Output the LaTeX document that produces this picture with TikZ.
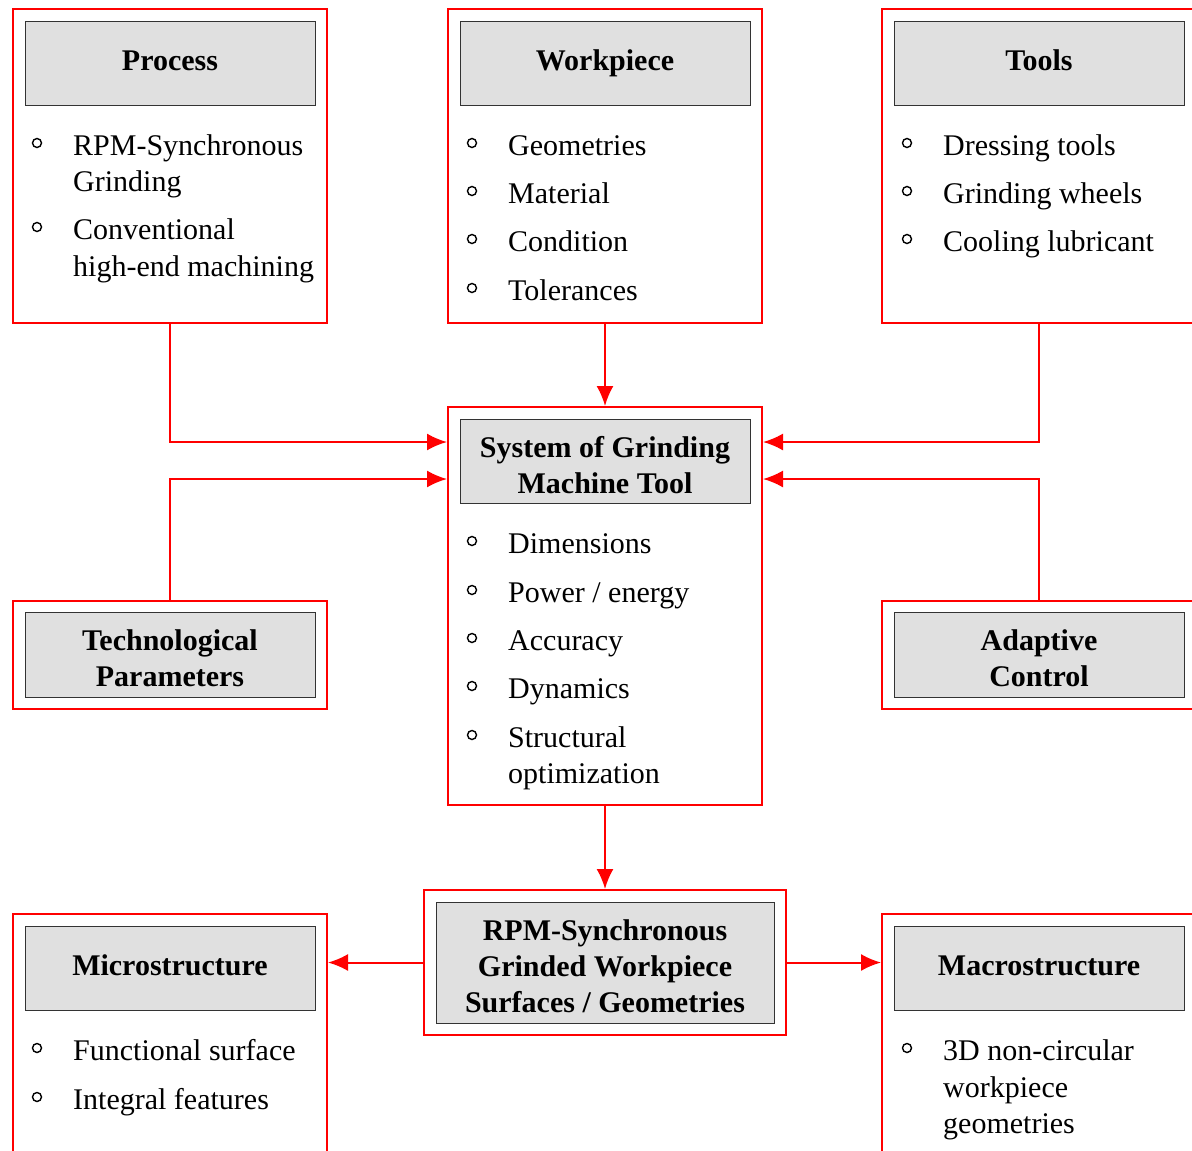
\documentclass[tikz,border=0pt]{standalone}
\usepackage{fontspec}
\setmainfont{Liberation Serif}
\usetikzlibrary{arrows.meta}
\tikzset{
  outer/.style={draw=red, line width=2pt, rectangle, inner sep=0pt, minimum width=314pt},
  head/.style={draw=black!80, line width=1pt, fill=black!12, rectangle, inner sep=0pt, minimum width=290pt, minimum height=84pt, align=center, font=\fontsize{30}{36}\selectfont\bfseries},
  item/.style={anchor=base west, inner sep=0pt, font=\fontsize{30}{36}\selectfont},
  bul/.style={draw=black, line width=1.4pt, circle, minimum size=9pt, inner sep=0pt},
  conn/.style={draw=red, line width=2pt, -{Latex[length=20pt,width=17pt]}},
  link/.style={draw=red, line width=2pt}
}
\newcommand\firstln{\rule{0pt}{38pt}}
\begin{document}
\begin{tikzpicture}[x=1pt,y=-1pt]
\useasboundingbox (0,0) rectangle (1192,1151);
\clip (0,0) rectangle (1192,1151);
\fill[white] (0,0) rectangle (1192,1151);
% outer boxes
\node[outer, minimum height=314pt] (proc) at (170,166) {};
\node[outer, minimum height=314pt] (work) at (605,166) {};
\node[outer, minimum height=314pt] (tools) at (1039,166) {};
\node[outer, minimum height=398pt] (sys) at (605,606) {};
\node[outer, minimum height=108pt] (tech) at (170,655) {};
\node[outer, minimum height=108pt] (adapt) at (1039,655) {};
\node[outer, minimum width=362pt, minimum height=145pt] (rpm) at (605,962.5) {};
\node[outer, minimum height=260pt] (micro) at (170,1044) {};
\node[outer, minimum height=260pt] (macro) at (1039,1044) {};
% headers
\node[head] (procH) at (170,63) {\strut Process};
\node[head] (workH) at (605,63) {\strut Workpiece};
\node[head] (toolsH) at (1039,63) {\strut Tools};
\node[head] (sysH) at (605,461.5) {\firstln System of Grinding\\\strut Machine Tool};
\node[head] (techH) at (170,655) {\firstln Technological\\\strut Parameters};
\node[head] (adaptH) at (1039,655) {\firstln Adaptive\\\strut Control};
\node[head, minimum width=338pt, minimum height=121pt] (rpmH) at (605,962.5) {\firstln RPM-Synchronous\\\strut Grinded Workpiece\\\strut Surfaces / Geometries};
\node[head] (microH) at (170,968.5) {\strut Microstructure};
\node[head] (macroH) at (1039,968.5) {\strut Macrostructure};
% Process items
\node[bul] (pb1) at (37,143) {};
\node[item] (p1) at (73,155) {RPM-Synchronous};
\node[item] (p1b) at (73,191) {Grinding};
\node[bul] (pb2) at (37,227) {};
\node[item] (p2) at (73,239) {Conventional};
\node[item] (p2b) at (73,276) {high-end machining};
% Workpiece items
\node[bul] (wb1) at (472,143) {};
\node[item] (w1) at (508,155) {Geometries};
\node[bul] (wb2) at (472,191) {};
\node[item] (w2) at (508,203) {Material};
\node[bul] (wb3) at (472,239) {};
\node[item] (w3) at (508,251) {Condition};
\node[bul] (wb4) at (472,288) {};
\node[item] (w4) at (508,300) {Tolerances};
% Tools items
\node[bul] (tb1) at (907,143) {};
\node[item] (t1) at (943,155) {Dressing tools};
\node[bul] (tb2) at (907,191) {};
\node[item] (t2) at (943,203) {Grinding wheels};
\node[bul] (tb3) at (907,239) {};
\node[item] (t3) at (943,251) {Cooling lubricant};
% System items
\node[bul] (sb1) at (472,541) {};
\node[item] (s1) at (508,553) {Dimensions};
\node[bul] (sb2) at (472,590) {};
\node[item] (s2) at (508,602) {Power / energy};
\node[bul] (sb3) at (472,638) {};
\node[item] (s3) at (508,650) {Accuracy};
\node[bul] (sb4) at (472,686) {};
\node[item] (s4) at (508,698) {Dynamics};
\node[bul] (sb5) at (472,735) {};
\node[item] (s5) at (508,747) {Structural};
\node[item] (s5b) at (508,783) {optimization};
% Micro items
\node[bul] (mb1) at (37,1048) {};
\node[item] (m1) at (73,1060) {Functional surface};
\node[bul] (mb2) at (37,1097) {};
\node[item] (m2) at (73,1109) {Integral features};
% Macro items
\node[bul] (ab1) at (907,1048) {};
\node[item] (a1) at (943,1060) {3D non-circular};
\node[item] (a1b) at (943,1097) {workpiece};
\node[item] (a1c) at (943,1133) {geometries};
% connectors
\draw[conn] (proc.south) |- ([yshift=-36pt]sys.north west);
\draw[conn] (tech.north) |- ([yshift=-73pt]sys.north west);
\draw[conn] (work.south) -- (sys.north);
\draw[conn] (tools.south) |- ([yshift=-36pt]sys.north east);
\draw[conn] (adapt.north) |- ([yshift=-73pt]sys.north east);
\draw[conn] (sys.south) -- (rpm.north);
\draw[conn] (rpm.west) -- (micro.east |- rpm.west);
\draw[conn] (rpm.east) -- (macro.west |- rpm.east);
\end{tikzpicture}
\end{document}
